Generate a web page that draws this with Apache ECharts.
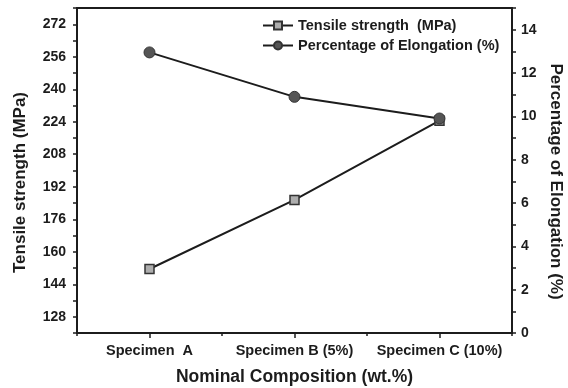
<!DOCTYPE html>
<html>
<head>
<meta charset="utf-8">
<script src="https://cdn.jsdelivr.net/npm/echarts@6/dist/echarts.min.js"></script>
<style>
  html, body { margin: 0; padding: 0; background: #fff; }
  #chart { width: 568px; height: 388px; }
</style>
</head>
<body>
<div id="chart"></div>
<script>
const specimens = ['Specimen  A', 'Specimen B (5%)', 'Specimen C (10%)'];
const tensileStrength = [151.5, 185.5, 224.5];
const elongation = [12.95, 10.9, 9.9];
const tensileLabels = [128, 144, 160, 176, 192, 208, 224, 240, 256, 272];
const elongationLabels = [0, 2, 4, 6, 8, 10, 12, 14];

const font = 'Liberation Sans, Arial, sans-serif';
const ink = '#1c1c1c';

const chart = echarts.init(document.getElementById('chart'));

const axisBase = {
    axisLine: { show: true, lineStyle: { color: ink, width: 2 } },
    axisTick: { show: true, length: 4, lineStyle: { color: ink, width: 1.5 } },
    splitLine: { show: false },
    axisLabel: { color: ink, fontFamily: font, fontWeight: 'bold', fontSize: 14 },
    nameTextStyle: { color: ink, fontFamily: font, fontWeight: 'bold', fontSize: 17 }
};

chart.setOption({
    animation: false,
    grid: {
        left: 77, right: 56, top: 8, bottom: 55,
        outerBoundsMode: 'none',
        containLabel: false,
        show: true, borderColor: ink, borderWidth: 2
    },
    legend: {
        orient: 'vertical',
        left: 257,
        top: 13,
        itemGap: 5,
        itemWidth: 30,
        itemHeight: 10,
        textStyle: { color: ink, fontFamily: font, fontWeight: 'bold', fontSize: 14.5 }
    },
    xAxis: [
        {
            ...axisBase,
            type: 'category',
            data: specimens,
            axisTick: { show: true, alignWithLabel: true, length: 5, lineStyle: { color: ink, width: 1.5 } },
            axisLabel: { ...axisBase.axisLabel, fontSize: 14.5, margin: 10, interval: 0 },
            name: 'Nominal Composition (wt.%)',
            nameLocation: 'middle',
            nameGap: 35,
            nameTextStyle: { ...axisBase.nameTextStyle, fontSize: 17.5 }
        },
        {
            type: 'category',
            data: specimens,
            position: 'bottom',
            axisLine: { show: false },
            axisTick: { show: true, length: 3, lineStyle: { color: ink, width: 1.5 } },
            axisLabel: { show: false }
        }
    ],
    yAxis: [
        {
            ...axisBase,
            type: 'value',
            min: 120,
            max: 280,
            interval: 8,
            axisLabel: {
                ...axisBase.axisLabel,
                margin: 11,
                formatter: v => tensileLabels.includes(v) ? String(v) : ''
            },
            name: 'Tensile strength (MPa)',
            nameLocation: 'middle',
            nameGap: 48,
            nameTextStyle: { ...axisBase.nameTextStyle, padding: [0, 24, 0, 0] }
        },
        {
            ...axisBase,
            type: 'value',
            position: 'right',
            min: 0,
            max: 15,
            interval: 1,
            axisLabel: {
                ...axisBase.axisLabel,
                margin: 9,
                formatter: v => elongationLabels.includes(v) ? String(v) : ''
            },
            name: 'Percentage of Elongation (%)',
            nameLocation: 'middle',
            nameRotate: -90,
            nameGap: 30,
            nameTextStyle: { ...axisBase.nameTextStyle, padding: [0, 0, 0, 22] }
        }
    ],
    series: [
        {
            name: 'Tensile strength  (MPa)',
            type: 'line',
            yAxisIndex: 0,
            data: tensileStrength,
            symbol: 'rect',
            symbolSize: 9,
            itemStyle: { color: '#adadad', borderColor: '#333', borderWidth: 1.5 }
        },
        {
            name: 'Percentage of Elongation (%)',
            type: 'line',
            yAxisIndex: 1,
            data: elongation,
            symbol: 'circle',
            symbolSize: 11,
            itemStyle: { color: '#555', borderColor: '#333', borderWidth: 1 }
        }
    ].map(s => ({
        ...s,
        showAllSymbol: true,
        lineStyle: { color: ink, width: 2 },
        emphasis: { disabled: true }
    }))
});
</script>
</body>
</html>
